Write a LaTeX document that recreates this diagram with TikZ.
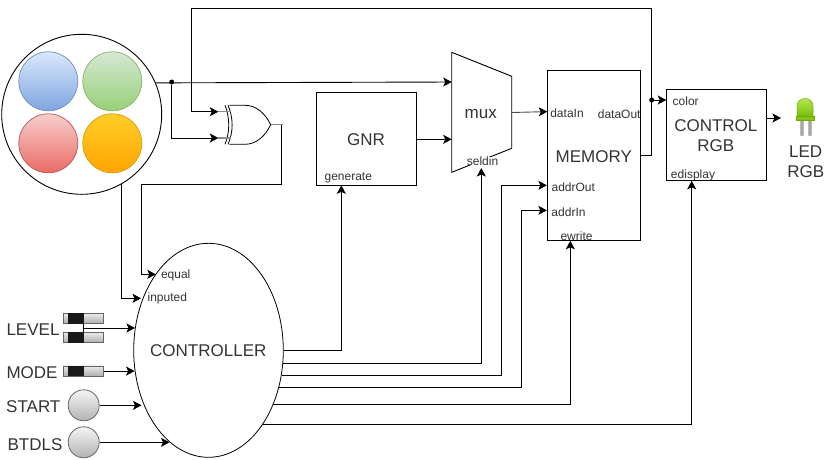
\documentclass[tikz,border=0pt]{standalone}
\usepackage{fontspec}
\setmainfont{Liberation Sans}
\usetikzlibrary{arrows.meta,shapes.geometric}
\definecolor{txtgray}{RGB}{51,51,51}
\tikzset{
  wire/.style={line width=0.9pt,black},
  arr/.style={wire,-{Stealth[length=8.5pt,width=9pt,inset=2pt,color=black]}},
  stub/.style={line width=1.1pt,gray!90},
  bigtxt/.style={font=\fontsize{17}{20}\selectfont,text=txtgray,inner sep=0pt,align=center},
  pintxt/.style={font=\fontsize{12}{14}\selectfont,text=txtgray,inner sep=0pt},
  box/.style={draw,line width=0.9pt,inner sep=0pt},
  dot/.style={circle,fill=black,inner sep=0pt,minimum size=5pt},
  lamp/.style={circle,draw,line width=0.7pt,inner sep=0pt,minimum size=59pt},
  btn/.style={circle,draw=black!60,line width=0.8pt,top color=black!4,bottom color=black!30,inner sep=0pt,minimum size=31pt},
  swbody/.style={rectangle,draw=black!60,line width=0.7pt,top color=black!8,bottom color=black!32,inner sep=0pt,minimum width=40.4pt,minimum height=10.4pt},
  swknob/.style={rectangle,fill=black!90,inner sep=0pt,minimum width=15.4pt,minimum height=10.4pt},
}
\begin{document}
\begin{tikzpicture}[x=1pt,y=1pt,yscale=-1,xscale=1]
\useasboundingbox (0,0) rectangle (829,459);

%Input pad
\node [circle,draw,line width=0.9pt,inner sep=0pt,minimum size=160pt] (pad) at (81.7,114.3) {};
\node [lamp,draw={rgb,255:red,108;green,142;blue,191},top color={rgb,255:red,218;green,232;blue,252},bottom color={rgb,255:red,126;green,166;blue,224}] (lampblue) at (48.3,81.3) {};
\node [lamp,draw={rgb,255:red,130;green,179;blue,102},top color={rgb,255:red,213;green,232;blue,212},bottom color={rgb,255:red,151;green,208;blue,119}] (lampgreen) at (112.3,81.3) {};
\node [lamp,draw={rgb,255:red,184;green,84;blue,80},top color={rgb,255:red,248;green,206;blue,204},bottom color={rgb,255:red,234;green,107;blue,102}] (lampred) at (48.3,143.3) {};
\node [lamp,draw={rgb,255:red,215;green,155;blue,0},top color={rgb,255:red,255;green,205;blue,40},bottom color={rgb,255:red,255;green,165;blue,0}] (lamporange) at (112.3,143.3) {};

%Blocks
\node [box,minimum width=100pt,minimum height=93pt] (gnr) at (366.7,138.8) {};
\node [bigtxt] (gnrtxt) at (366,140) {GNR};
\node [box,minimum width=93.4pt,minimum height=170pt] (mem) at (594,155.3) {};
\node [bigtxt] (memtxt) at (593.8,156.8) {MEMORY};
\node [box,minimum width=100pt,minimum height=91pt] (rgb) at (716.7,134.8) {};
\node [bigtxt] (rgbtxt) at (715.8,135.8) {CONTROL\\RGB};
\node [draw,ellipse,line width=0.8pt,inner sep=0pt,minimum width=149.6pt,minimum height=214pt] (ctrl) at (208.5,350.3) {};
\node [bigtxt] (ctrltxt) at (208.3,350.8) {CONTROLLER};

%Mux
\draw [line width=0.9pt] (451.7,52.3) -- (511.7,76.3) -- (511.7,148.3) -- (451.7,172.3) -- cycle ;
\node [bigtxt] (muxtxt) at (480.8,114.5) {mux};

%Xor gate
\draw [line width=0.8pt] (229.3,105.3) -- (245,105.3) .. controls (256,105.3) and (265,113) .. (270.7,124.7) .. controls (265,136.5) and (256,144.3) .. (245,144.3) -- (229.3,144.3) ;
\draw [line width=0.8pt] (225,105.3) .. controls (230,118) and (230,132) .. (225,144.3) ;
\draw [line width=0.8pt] (228,105.3) .. controls (233.5,118) and (233.5,132) .. (228,144.3) ;
\coordinate (xorA) at (218.3,111.7);
\coordinate (xorB) at (218.3,138);
\coordinate (xorC) at (270.7,124.7);
\coordinate (xorD) at (283,124.7);
\draw [stub] (xorA) -- (230.5,111.7) ;
\draw [stub] (xorB) -- (230.5,138) ;
\draw [stub] (xorC) -- (xorD) ;

%Switches and buttons
\foreach \n/\y in {lvlA/318.5,lvlB/337.5,modesw/371.1}{
  \node [swbody] (\n) at (83.5,\y) {};
  \node [swknob] (\n k) at (76,\y) {};
}
\node [btn] (btnstart) at (83.7,405.3) {};
\node [btn] (btnbtdls) at (83.7,442.3) {};
\node [bigtxt] (lvltxt) at (33,329.7) {LEVEL};
\node [bigtxt] (modetxt) at (32,372.7) {MODE};
\node [bigtxt] (starttxt) at (33.3,406.4) {START};
\node [bigtxt] (btdlstxt) at (35,444.7) {BTDLS};

%Led
\draw [fill=gray!70,draw=gray!50,line width=0.3pt] (799.8,120) rectangle (802.8,135) ;
\draw [fill=gray!70,draw=gray!50,line width=0.3pt] (807.8,120) rectangle (810.8,135) ;
\draw [draw={rgb,255:red,110;green,170;blue,10},line width=0.5pt,top color={rgb,255:red,190;green,235;blue,90},bottom color={rgb,255:red,120;green,190;blue,10}] (797,116) -- (797,106) .. controls (797,96) and (813,96) .. (813,106) -- (813,116) -- cycle ;
\draw [draw={rgb,255:red,110;green,170;blue,10},line width=0.5pt,fill={rgb,255:red,130;green,195;blue,20}] (796,116) rectangle (814,120.5) ;
\node [bigtxt] (ledtxt) at (805.7,162) {LED\\RGB};
\coordinate (ledIn) at (781,118);

%Pin labels
\node [pintxt] (equaltxt) at (175.7,275.4) {equal};
\node [pintxt] (inputedtxt) at (167.3,298.7) {inputed};
\node [pintxt] (generatetxt) at (348.3,177.7) {generate};
\node [pintxt,fill=white] (seldintxt) at (482.5,161) {seldin};
\node [pintxt] (dataintxt) at (567,113.4) {dataIn};
\node [pintxt] (dataouttxt) at (619.2,114.7) {dataOut};
\node [pintxt] (addrouttxt) at (573.3,187.4) {addrOut};
\node [pintxt] (addrintxt) at (568.5,212.7) {addrIn};
\node [pintxt] (ewritetxt) at (576.5,236.7) {ewrite};
\node [pintxt] (colortxt) at (685.7,101.4) {color};
\node [pintxt] (edisplaytxt) at (693,175.4) {edisplay};

%Junctions and bends
\node [dot] (jpad) at (171.7,82) {};
\node [dot] (jmem) at (651.7,100) {};
\coordinate (muxA) at (451.7,82);
\coordinate (muxB) at (451.7,139.3);
\coordinate (muxC) at (511.7,112.5);
\coordinate (muxSel) at (481.3,168);
\coordinate (topR) at (651.7,8.3);
\coordinate (topL) at (191.7,8.3);
\coordinate (backR) at (281.7,184.3);
\coordinate (backL) at (141.7,184.3);
\coordinate (pinEqual) at (155.8,274.3);
\coordinate (pinInputed) at (141,298.3);
\coordinate (gnrIn) at (341.3,185.3);
\coordinate (bendA) at (501.3,185.3);
\coordinate (bendB) at (521.3,210.3);
\coordinate (memIn) at (570.3,240.8);
\coordinate (rgbIn) at (691.7,180.8);

%Wires from the pad
\draw [arr] (pad.23.8) -- (muxA) ;
\draw [arr] (jpad) |- (xorB) ;
\draw [arr] (pad.-60) |- (pinInputed) ;
%Wires from the gate
\draw [wire] (281.7,124.7) -- (backR) -- (backL) ;
\draw [arr] (backL) |- (pinEqual) ;
%Data path
\draw [arr] (gnr.east |- muxB) -- (muxB) ;
\draw [arr,draw=gray!60!black] (muxC) -- (547.3,111.6) ;
\draw [wire] (mem.east) -| (topR) -- (topL) ;
\draw [arr] (topL) |- (xorA) ;
\draw [arr] (jmem) -- (jmem -| rgb.west) ;
\draw [arr] (rgb.east |- ledIn) -- (ledIn) ;

%Wires into the controller
\draw [wire] (lvlAk.south east) -- (lvlBk.north east) coordinate [midway] (lvljoin) ;
\draw [arr] (lvljoin) -- (lvljoin -| ctrl.163.4) ;
\draw [arr] (modesw.east) -- (modesw.east -| ctrl.195.7) ;
\draw [arr] (btnstart.east) -- (141.5,405.3) ;
\draw [arr] (btnbtdls.east) -- (btnbtdls.east -| ctrl.247.4) ;

%Wires out of the controller
\draw [arr] (ctrl.east) -| (gnrIn) ;
\draw [arr] (ctrl.-10.7) -| (muxSel) ;
\draw [wire] (ctrl.-19) -| (bendA) ;
\draw [arr] (bendA) -- (bendA -| mem.west) ;
\draw [wire] (ctrl.-28.5) -| (bendB) ;
\draw [arr] (bendB) -- (bendB -| mem.west) ;
\draw [arr] (ctrl.-40.6) -| (memIn) ;
\draw [arr] (ctrl.-54.6) -| (rgbIn) ;

\end{tikzpicture}
\end{document}
